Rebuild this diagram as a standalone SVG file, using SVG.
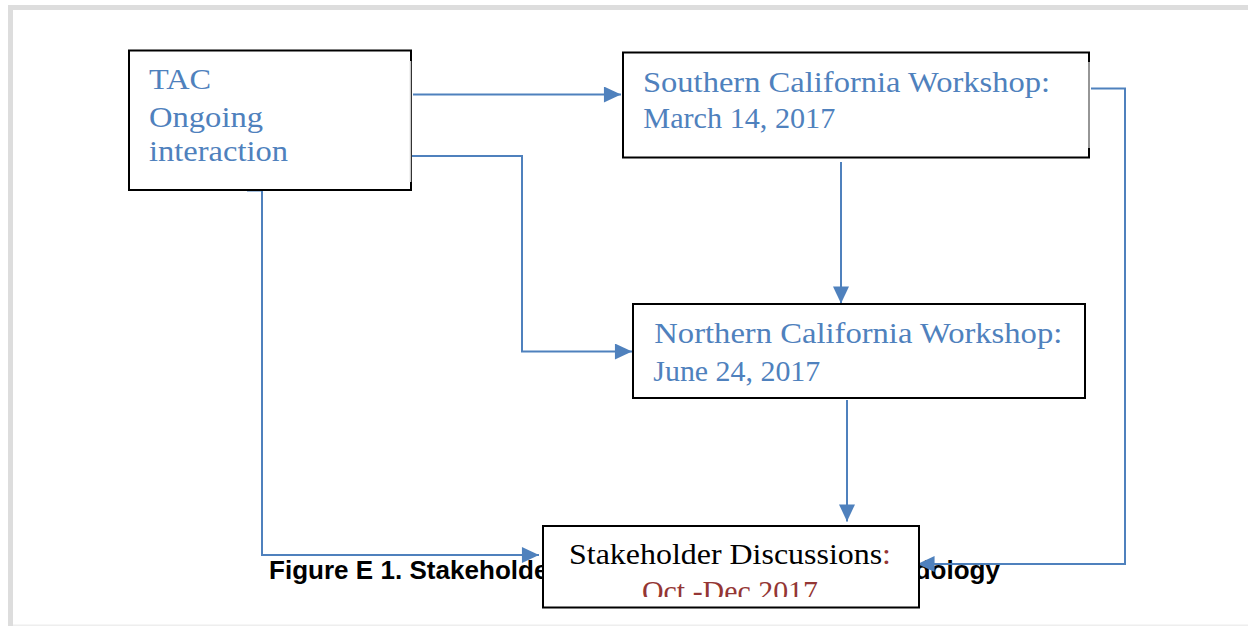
<svg xmlns="http://www.w3.org/2000/svg" width="1248" height="626" viewBox="0 0 1248 626">
  <style>
    .box { fill: #ffffff; stroke: #000000; stroke-width: 2; }
    .edge { fill: none; stroke: #c8c8c8; stroke-width: 1.5; }
    .lbl { font-family: "Liberation Serif", "Times New Roman", serif; font-size: 29px; fill: #4F81BD; }
    .lblk { font-family: "Liberation Serif", "Times New Roman", serif; font-size: 29px; fill: #000000; }
    .red { fill: #943634; }
    .conn { fill: none; stroke: #4F81BD; stroke-width: 2; }
    .cap { font-family: "Liberation Sans", Arial, sans-serif; font-size: 26px; font-weight: bold; fill: #000000; }
  </style>
  <defs>
    <marker id="arr" markerUnits="userSpaceOnUse" markerWidth="18" markerHeight="16" viewBox="0 0 16 15" refX="16" refY="7.5" orient="auto">
      <path d="M0,0 L16,7.5 L0,15 Z" fill="#4F81BD"/>
    </marker>
    <clipPath id="clipS">
      <rect x="543" y="527" width="376" height="70"/>
    </clipPath>
  </defs>

  <rect x="0" y="0" width="1248" height="626" fill="#ffffff"/>
  <g id="page">
    <rect x="8" y="5" width="1240" height="5" fill="#dddddd"/>
    <rect x="8" y="5" width="5" height="621" fill="#dddddd"/>
    <rect x="13" y="624.5" width="1235" height="1.5" fill="#eeeeee"/>
  </g>

  <text id="caption" class="cap" x="269" y="579" textLength="731" lengthAdjust="spacing">Figure E 1. Stakeholder Engagement Process Methodology</text>

  <g id="connectors">
    <path class="conn" d="M413,94.5 H621" marker-end="url(#arr)"/>
    <path class="conn" d="M412,156 H522 V351.5 H632" marker-end="url(#arr)"/>
    <path class="conn" d="M247,190.5 H262 V555 H539" marker-end="url(#arr)"/>
    <path class="conn" d="M841,162 V303.5" marker-end="url(#arr)"/>
    <path class="conn" d="M847,400 V521.5" marker-end="url(#arr)"/>
    <path class="conn" d="M1091,88.5 H1125 V564 H917.5" marker-end="url(#arr)"/>
  </g>

  <g id="tac">
    <rect class="box" x="129" y="50.5" width="282" height="139.5"/>
    <line class="edge" x1="410.5" y1="61" x2="410.5" y2="182"/>
    <text class="lbl" x="149" y="89.3" textLength="62" lengthAdjust="spacingAndGlyphs">TAC</text>
    <text class="lbl" x="149" y="126.5" textLength="114" lengthAdjust="spacingAndGlyphs">Ongoing</text>
    <text class="lbl" x="149" y="161" textLength="139" lengthAdjust="spacingAndGlyphs">interaction</text>
  </g>

  <g id="southern">
    <rect class="box" x="623" y="52.5" width="466" height="105"/>
    <line class="edge" x1="1089" y1="62" x2="1089" y2="148"/>
    <text class="lbl" x="643" y="91.7" textLength="407" lengthAdjust="spacingAndGlyphs">Southern California Workshop:</text>
    <text class="lbl" x="643.3" y="128.3" textLength="192" lengthAdjust="spacingAndGlyphs">March 14, 2017</text>
  </g>

  <g id="northern">
    <rect class="box" x="633" y="304" width="452" height="94"/>
    <text class="lbl" x="654.3" y="343.3" textLength="408" lengthAdjust="spacingAndGlyphs">Northern California Workshop:</text>
    <text class="lbl" x="653.3" y="380.7" textLength="167" lengthAdjust="spacingAndGlyphs">June 24, 2017</text>
  </g>

  <g id="stakeholder">
    <rect class="box" x="543" y="526" width="376" height="81.5"/>
    <g clip-path="url(#clipS)">
      <text class="lblk" x="569" y="564.3" textLength="322" lengthAdjust="spacingAndGlyphs">Stakeholder Discussions<tspan class="red">:</tspan></text>
      <text class="lblk red" x="642" y="600.5" textLength="176" lengthAdjust="spacingAndGlyphs">Oct -Dec 2017</text>
    </g>
  </g>
</svg>
